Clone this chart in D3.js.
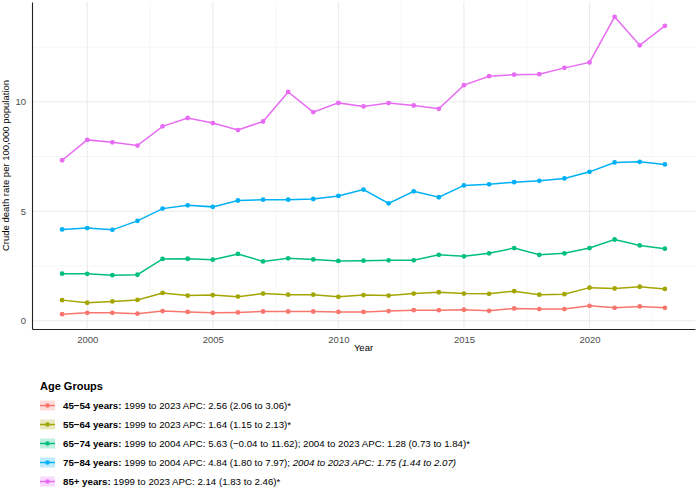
<!DOCTYPE html>
<html>
<head>
<meta charset="utf-8">
<script src="https://cdn.jsdelivr.net/npm/d3@7"></script>
<style>
  body { margin: 0; background: #fff; }
  svg { display: block; font-family: "Liberation Sans", Arial, sans-serif; }
</style>
</head>
<body>
<svg id="chart" width="696" height="490"></svg>
<script>
// dados
const years = d3.range(1999, 2024);
const groups = ['45−54 years', '55−64 years', '65−74 years', '75−84 years', '85+ years'];
const colors = ['#F8766D', '#A3A500', '#00BF7D', '#00B0F6', '#E76BF3'];

const rate4554 = [0.30, 0.36, 0.36, 0.32, 0.44, 0.40, 0.36, 0.38, 0.42, 0.42, 0.42, 0.40,
  0.40, 0.44, 0.48, 0.48, 0.50, 0.45, 0.56, 0.53, 0.53, 0.68, 0.59, 0.65, 0.59];
const rate5564 = [0.94, 0.82, 0.88, 0.95, 1.27, 1.15, 1.17, 1.10, 1.24, 1.19, 1.19, 1.09,
  1.17, 1.15, 1.24, 1.30, 1.24, 1.23, 1.35, 1.19, 1.21, 1.51, 1.47, 1.55, 1.45];
const rate6574 = [2.15, 2.14, 2.08, 2.10, 2.82, 2.83, 2.79, 3.05, 2.71, 2.85, 2.80, 2.73,
  2.74, 2.76, 2.76, 3.01, 2.94, 3.08, 3.32, 3.01, 3.08, 3.32, 3.71, 3.44, 3.29];
const rate7584 = [4.17, 4.23, 4.15, 4.56, 5.12, 5.27, 5.20, 5.49, 5.53, 5.53, 5.56, 5.70,
  5.99, 5.36, 5.91, 5.64, 6.18, 6.23, 6.33, 6.39, 6.50, 6.80, 7.23, 7.26, 7.14];
const rate85 = [7.33, 8.26, 8.15, 8.00, 8.88, 9.26, 9.03, 8.71, 9.10, 10.45, 9.53, 9.95,
  9.79, 9.94, 9.83, 9.68, 10.76, 11.17, 11.24, 11.26, 11.55, 11.80, 13.88, 12.58, 13.47];

const xTicks = [2000, 2005, 2010, 2015, 2020];
const yTicks = [0, 5, 10];

// texto da legenda: [negrito, normal, itálico]
const legendText = [
  ['45−54 years:', ' 1999 to 2023 APC: 2.56 (2.06 to 3.06)*', ''],
  ['55−64 years:', ' 1999 to 2023 APC: 1.64 (1.15 to 2.13)*', ''],
  ['65−74 years:', ' 1999 to 2004 APC: 5.63 (−0.04 to 11.62); 2004 to 2023 APC: 1.28 (0.73 to 1.84)*', ''],
  ['75−84 years:', ' 1999 to 2004 APC: 4.84 (1.80 to 7.97);', ' 2004 to 2023 APC: 1.75 (1.44 to 2.07)'],
  ['85+ years:', ' 1999 to 2023 APC: 2.14 (1.83 to 2.46)*', '']
];

const series = [rate4554, rate5564, rate6574, rate7584, rate85];

const svg = d3.select('#chart');
const margin = { top: 2, right: 1, bottom: 161, left: 32 };
const width = 696 - margin.left - margin.right;
const height = 490 - margin.top - margin.bottom;

// escalas com expansão de 5% (como ggplot)
const allVals = series.flat();
const yMin = d3.min(allVals), yMax = d3.max(allVals);
const yPad = (yMax - yMin) * 0.05;
const x = d3.scaleLinear().domain([1999 - 1.2, 2023 + 1.2]).range([0, width]);
const y = d3.scaleLinear().domain([yMin - yPad, yMax + yPad]).range([height, 0]);

const g = svg.append('g').attr('transform', `translate(${margin.left},${margin.top})`);

// grade menor
const xMinor = d3.range(1997.5, 2025, 5);
const yMinor = [2.5, 7.5, 12.5];
g.selectAll('.xminor').data(xMinor.filter(d => x(d) > 0 && x(d) < width)).enter()
  .append('line')
  .attr('x1', d => x(d)).attr('x2', d => x(d))
  .attr('y1', 0).attr('y2', height)
  .attr('stroke', '#f0f0f0').attr('stroke-width', 0.6);
g.selectAll('.yminor').data(yMinor).enter()
  .append('line')
  .attr('x1', 0).attr('x2', width)
  .attr('y1', d => y(d)).attr('y2', d => y(d))
  .attr('stroke', '#f0f0f0').attr('stroke-width', 0.6);

// grade maior
g.selectAll('.xmajor').data(xTicks).enter()
  .append('line')
  .attr('x1', d => x(d)).attr('x2', d => x(d))
  .attr('y1', 0).attr('y2', height)
  .attr('stroke', '#ebebeb').attr('stroke-width', 1.1);
g.selectAll('.ymajor').data(yTicks).enter()
  .append('line')
  .attr('x1', 0).attr('x2', width)
  .attr('y1', d => y(d)).attr('y2', d => y(d))
  .attr('stroke', '#ebebeb').attr('stroke-width', 1.1);

// eixos
const xAxis = g.append('g')
  .attr('transform', `translate(0,${height})`)
  .call(d3.axisBottom(x).tickValues(xTicks).tickFormat(d3.format('d')).tickSize(0).tickPadding(7));
const yAxis = g.append('g')
  .call(d3.axisLeft(y).tickValues(yTicks).tickSize(0).tickPadding(6));
[xAxis, yAxis].forEach(a => {
  a.select('.domain').attr('stroke', '#222').attr('stroke-width', 1.1);
  a.selectAll('text').attr('fill', '#4d4d4d').style('font-size', '9.5px')
    .style('font-family', '"Liberation Sans", Arial, sans-serif');
});

// títulos dos eixos
svg.append('text')
  .attr('x', margin.left + width / 2).attr('y', 351)
  .attr('text-anchor', 'middle')
  .style('font-size', '9.5px').attr('fill', '#000')
  .text('Year');
svg.append('text')
  .attr('transform', `translate(9,${margin.top + height / 2}) rotate(-90)`)
  .attr('text-anchor', 'middle')
  .style('font-size', '9.5px').attr('fill', '#000')
  .text('Crude death rate per 100,000 population');

// linhas e pontos
const line = d3.line().x((d, i) => x(years[i])).y(d => y(d));
series.forEach((vals, k) => {
  g.append('path')
    .datum(vals)
    .attr('d', line)
    .attr('fill', 'none')
    .attr('stroke', colors[k])
    .attr('stroke-width', 1.5);
  g.selectAll(`.pt${k}`).data(vals).enter()
    .append('circle')
    .attr('cx', (d, i) => x(years[i]))
    .attr('cy', d => y(d))
    .attr('r', 2.4)
    .attr('fill', colors[k]);
});

// legenda
const legend = svg.append('g').attr('transform', 'translate(40,0)');
legend.append('text')
  .attr('x', 0).attr('y', 390)
  .style('font-size', '11px').style('font-weight', 'bold')
  .text('Age Groups');

groups.forEach((name, k) => {
  const cy = 405.5 + k * 19;
  const row = legend.append('g');
  row.append('rect')
    .attr('x', 0).attr('y', cy - 5).attr('width', 15).attr('height', 10)
    .attr('fill', colors[k]).attr('fill-opacity', 0.25);
  row.append('line')
    .attr('x1', 0).attr('x2', 15).attr('y1', cy).attr('y2', cy)
    .attr('stroke', colors[k]).attr('stroke-width', 1.4);
  row.append('circle')
    .attr('cx', 7.5).attr('cy', cy).attr('r', 2.3).attr('fill', colors[k]);
  const t = row.append('text')
    .attr('x', 23).attr('y', cy + 3.4)
    .style('font-size', '9.7px').attr('fill', '#000');
  const parts = legendText[k];
  t.append('tspan').style('font-weight', 'bold').text(parts[0]);
  t.append('tspan').text(parts[1]);
  if (parts[2]) t.append('tspan').style('font-style', 'italic').text(parts[2]);
});
</script>
</body>
</html>
